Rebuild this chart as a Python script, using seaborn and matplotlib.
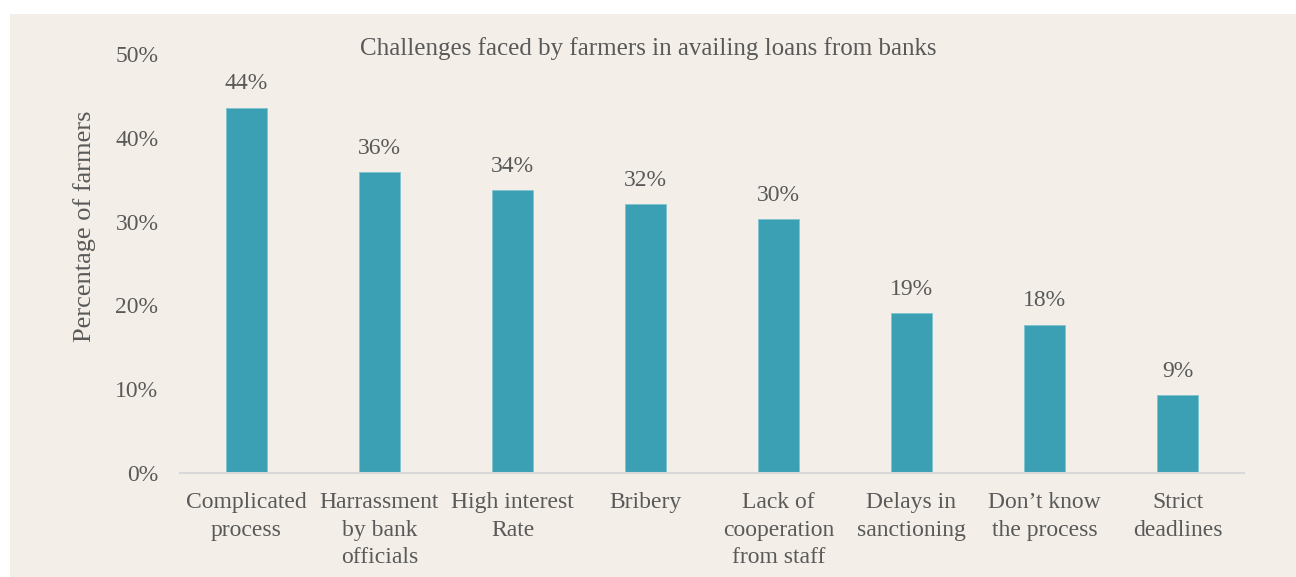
import matplotlib
matplotlib.use("Agg")
import matplotlib.pyplot as plt
from matplotlib.patches import Rectangle
from matplotlib.ticker import FuncFormatter
import pandas as pd
import seaborn as sns

categories = [
    "Complicated\nprocess",
    "Harrassment\nby bank\nofficials",
    "High interest\nRate",
    "Bribery",
    "Lack of\ncooperation\nfrom staff",
    "Delays in\nsanctioning",
    "Don\u2019t know\nthe process",
    "Strict\ndeadlines",
]
shares = [0.436, 0.359, 0.338, 0.321, 0.303, 0.191, 0.177, 0.093]
y_ticks = [0.0, 0.1, 0.2, 0.3, 0.4, 0.5]

title = "Challenges faced by farmers in availing loans from banks"
y_label = "Percentage of farmers"

panel_color = "#F3EFE8"
bar_color = "#3CA0B4"
text_color = "#595959"
axis_color = "#D9D9D9"

sns.set_theme(style="white")
plt.rcParams["font.family"] = ["Liberation Serif", "DejaVu Serif"]

df = pd.DataFrame({"challenge": categories, "share": shares})

fig = plt.figure(figsize=(12.96, 5.77), dpi=100, facecolor="white")
panel = Rectangle((10 / 1296, 0), 1 - 10 / 1296, 1 - 14 / 577,
                  transform=fig.transFigure, facecolor=panel_color,
                  edgecolor="none", zorder=-10)
fig.patches.append(panel)

ax = fig.add_axes([180 / 1296, 1 - 473 / 577, 1064 / 1296, 419 / 577])
ax.set_facecolor("none")
ax.set_zorder(1)

sns.barplot(data=df, x="challenge", y="share", color=bar_color, width=0.31,
            saturation=1, ax=ax, edgecolor="#7FC3D0", linewidth=0.6)

ax.set_ylim(0, 0.5)
ax.set_xlim(-0.5, len(categories) - 0.5)
ax.set_yticks(y_ticks)
ax.yaxis.set_major_formatter(FuncFormatter(lambda v, _: f"{v:.0%}"))
ax.tick_params(axis="y", length=0, pad=15.5, labelsize=17, labelcolor=text_color)
ax.tick_params(axis="x", length=0, pad=14, labelsize=17, labelcolor=text_color)
for lbl in ax.get_xticklabels():
    lbl.set_linespacing(1.38)

ax.set_xlabel("")
ax.set_ylabel(y_label, fontsize=19, color=text_color)
ax.yaxis.set_label_coords(-0.079, 0.59)

for side in ["left", "right", "top"]:
    ax.spines[side].set_visible(False)
ax.spines["bottom"].set_color(axis_color)
ax.spines["bottom"].set_linewidth(1.5)

for i, v in enumerate(shares):
    ax.annotate(f"{v:.0%}", xy=(i, v), xytext=(0, 9.5), textcoords="offset points",
                ha="center", va="bottom", fontsize=17, color=text_color)

fig.text(0.5, 1 - 49 / 577, title, ha="center", va="center",
         fontsize=18, color=text_color)

fig.savefig("out.png", dpi=100, facecolor="white")
